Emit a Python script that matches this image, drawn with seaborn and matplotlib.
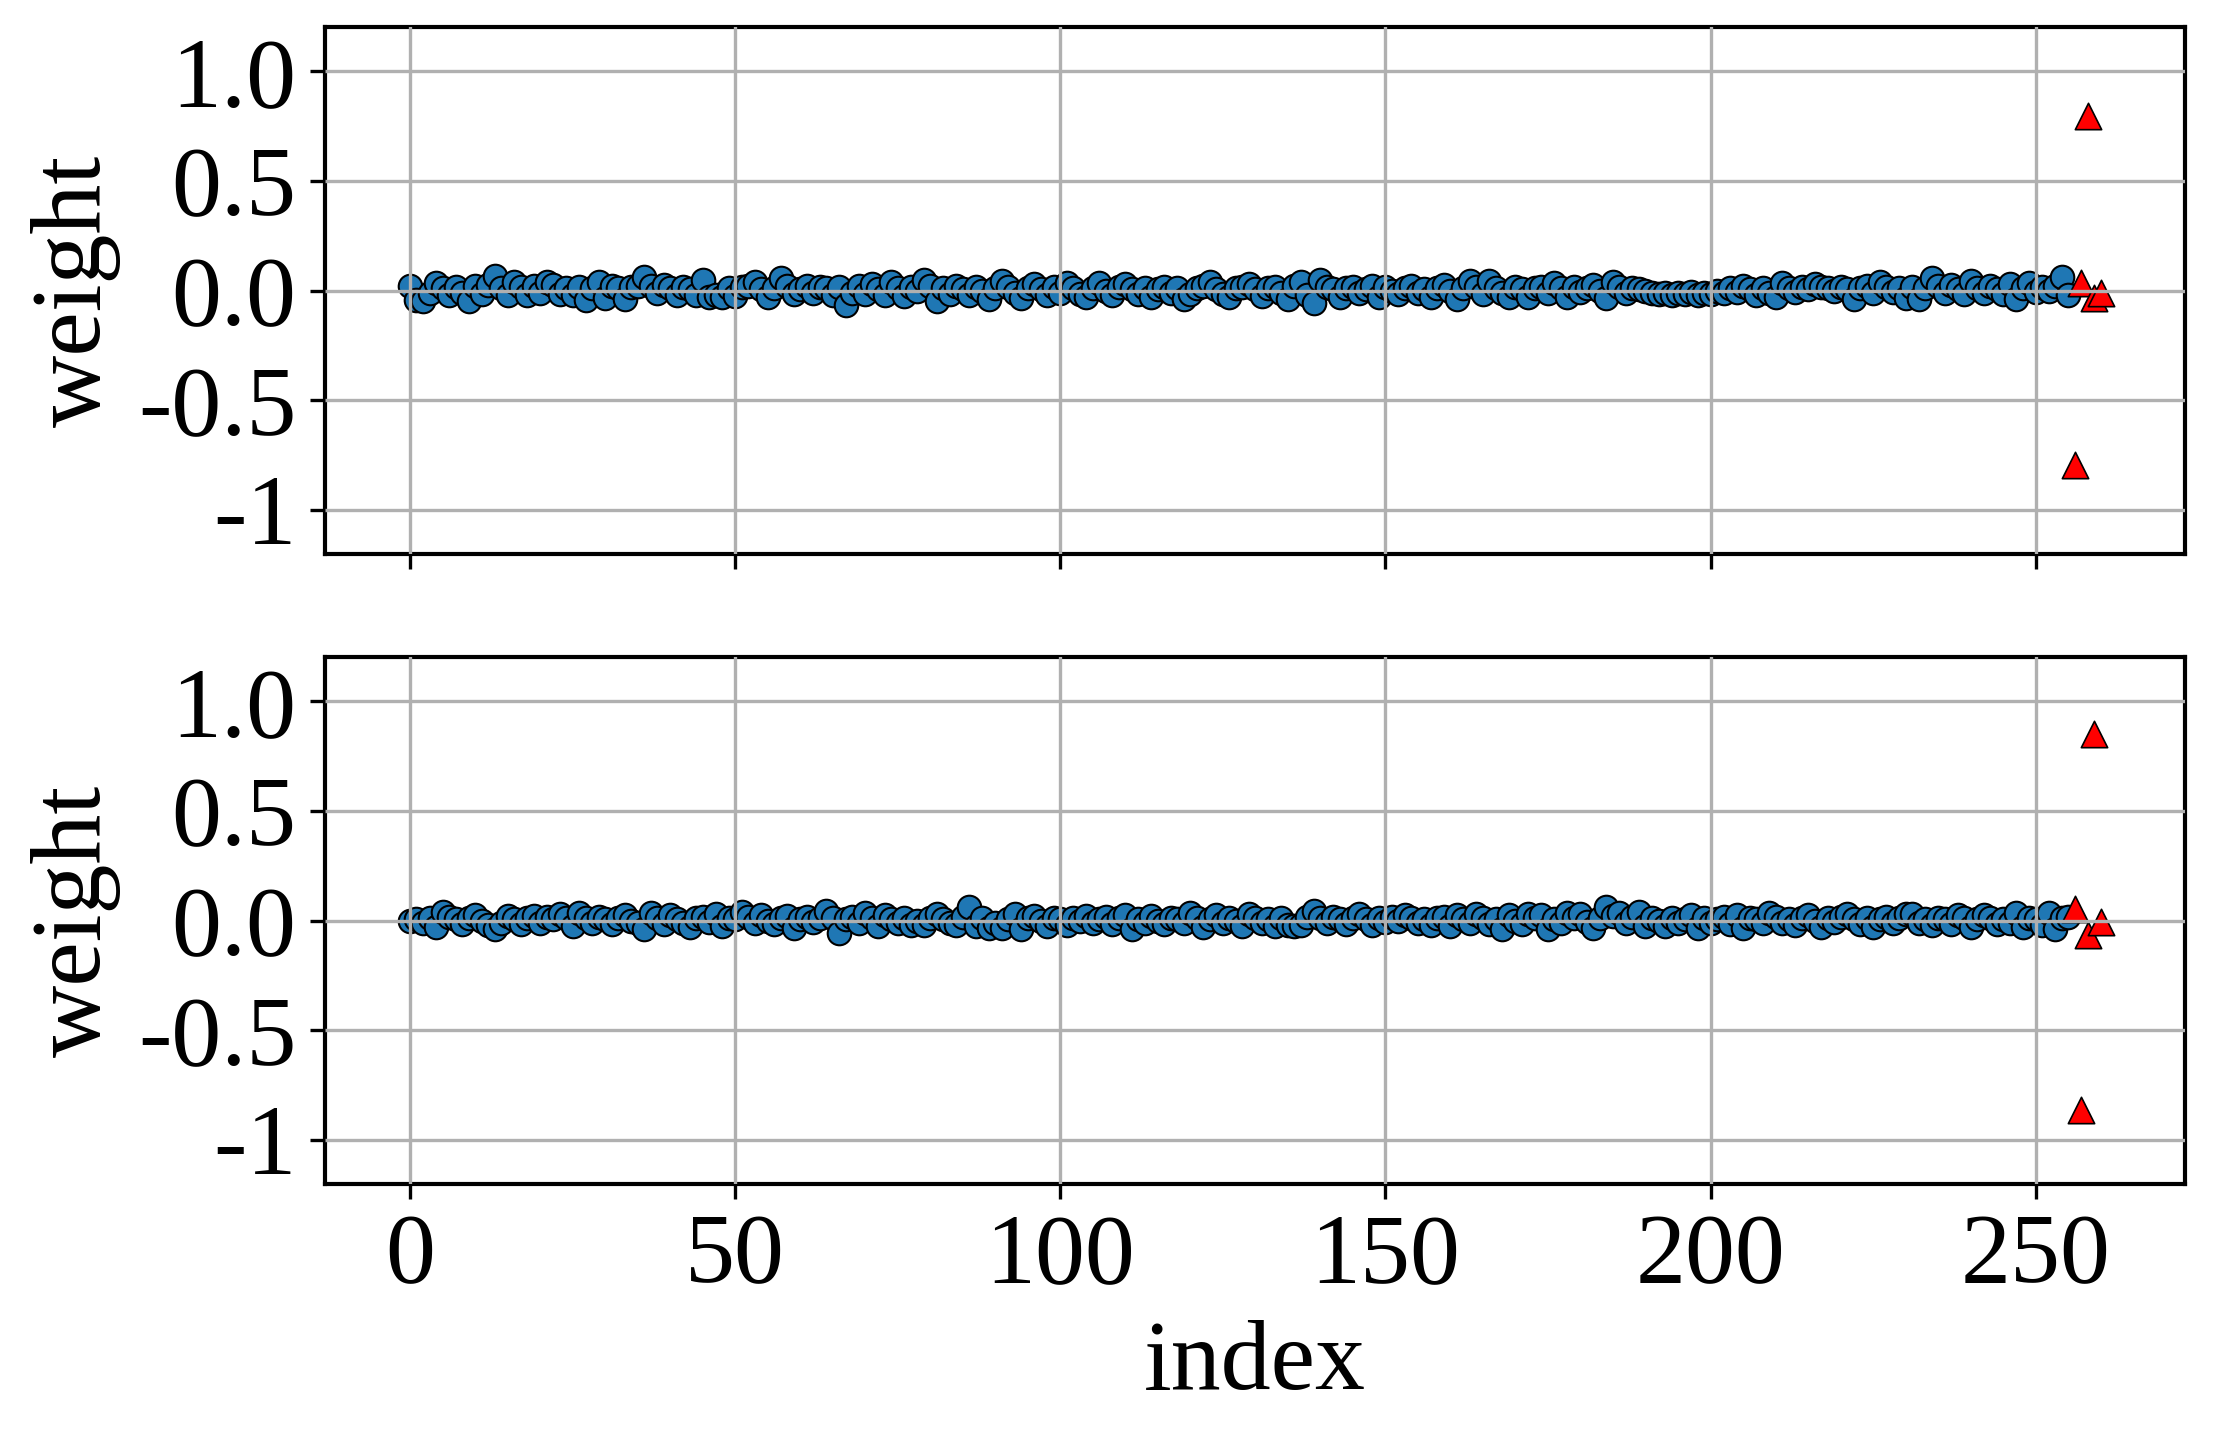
import numpy as np
import pandas as pd
import matplotlib
matplotlib.use('Agg')
import matplotlib.pyplot as plt
import seaborn as sns

sns.set_theme(style='ticks')
plt.rcParams['font.family'] = ['Liberation Serif', 'DejaVu Serif']
plt.rcParams['axes.edgecolor'] = 'black'
plt.rcParams['axes.linewidth'] = 1.0
plt.rcParams['text.color'] = 'black'
plt.rcParams['axes.labelcolor'] = 'black'
plt.rcParams['xtick.color'] = 'black'
plt.rcParams['ytick.color'] = 'black'

# weights of the first layer (256 regular entries) and the last few (outliers)
top_weights = [
    0.02, -0.045, -0.05, -0.01, 0.034, 0.01, -0.02, 0.015, -0.01, -0.05, 0.02, -0.015, 0.025, 0.064, 0.01, -0.02,
    0.04, 0.015, -0.02, 0.02, -0.01, 0.04, 0.025, -0.015, 0.01, -0.02, 0.015, -0.043, 0.01, 0.04, -0.035, 0.02,
    0.01, -0.04, 0.015, 0.02, 0.06, 0.02, -0.01, 0.025, 0.01, -0.02, 0.015, 0.005, -0.02, 0.05, -0.03, -0.02,
    -0.03, 0.01, -0.025, 0.015, 0.02, 0.04, 0.005, -0.03, 0.01, 0.055, 0.02, -0.015, 0.005, 0.02, -0.01, 0.015,
    0.01, -0.02, 0.015, -0.065, -0.01, 0.02, -0.015, 0.03, 0.005, -0.02, 0.04, 0.01, -0.025, 0.015, 0.0, 0.05,
    0.02, -0.05, 0.01, -0.015, 0.02, 0.005, -0.02, 0.015, 0.0, -0.04, 0.01, 0.045, 0.015, -0.01, -0.035, 0.01,
    0.03, 0.005, -0.02, 0.015, -0.01, 0.035, 0.01, -0.015, -0.03, 0.01, 0.035, 0.0, -0.02, 0.015, 0.03, 0.005,
    -0.015, 0.01, -0.03, 0.005, 0.015, -0.01, 0.01, -0.04, -0.015, 0.01, 0.02, 0.04, 0.005, -0.015, -0.03, 0.01,
    0.015, 0.03, 0.005, -0.025, 0.01, 0.015, -0.01, -0.04, 0.02, 0.04, -0.02, -0.055, 0.05, 0.015, 0.005, -0.03,
    0.01, 0.015, -0.01, 0.005, 0.02, -0.03, 0.015, 0.0, -0.015, 0.01, 0.02, -0.01, 0.005, -0.03, 0.01, 0.025,
    0.0, -0.04, 0.01, 0.045, 0.015, -0.015, 0.045, 0.01, -0.01, -0.03, 0.015, 0.005, -0.03, 0.01, 0.015, -0.01,
    0.035, 0.01, -0.03, 0.015, -0.005, 0.01, 0.025, 0.0, -0.035, 0.04, 0.015, -0.01, 0.01, 0.005, 0.0, -0.01,
    -0.015, -0.01, -0.02, -0.01, -0.015, -0.005, -0.02, -0.01, -0.015, 0.0, -0.01, 0.01, -0.005, 0.02, 0.005, -0.02,
    0.01, -0.01, -0.03, 0.035, 0.01, -0.005, 0.015, 0.005, 0.03, 0.015, 0.01, 0.0, 0.015, 0.005, -0.04, 0.01,
    0.02, -0.01, 0.04, 0.015, -0.005, 0.01, -0.035, 0.015, -0.04, 0.01, 0.055, 0.02, -0.01, 0.025, 0.005, -0.015,
    0.045, 0.01, -0.01, 0.02, 0.005, -0.015, 0.03, -0.04, 0.01, 0.035, -0.005, 0.015, 0.0, 0.02, 0.06, -0.02,
]
top_outliers = [-0.795, 0.035, 0.794, -0.035, -0.012]

bottom_weights = [
    0.0, 0.005, -0.01, 0.01, -0.03, 0.04, 0.015, 0.005, -0.015, 0.01, 0.025, 0.0, -0.02, -0.04, -0.01, 0.02,
    0.005, -0.015, 0.01, 0.02, -0.01, 0.015, 0.005, 0.03, 0.01, -0.025, 0.035, 0.01, -0.01, 0.015, 0.005, -0.015,
    0.01, 0.025, 0.0, -0.01, -0.04, 0.035, 0.01, -0.015, 0.025, 0.005, -0.01, -0.03, 0.01, 0.015, -0.005, 0.03,
    -0.025, 0.01, 0.005, 0.04, 0.015, -0.01, 0.025, 0.0, -0.015, 0.01, 0.02, -0.035, 0.005, 0.015, -0.005, 0.01,
    0.045, 0.01, -0.055, 0.005, 0.015, -0.01, 0.035, 0.01, -0.025, 0.025, 0.005, -0.01, 0.01, -0.02, 0.0, -0.02,
    0.01, 0.03, 0.005, -0.01, -0.02, 0.015, 0.06, -0.025, 0.01, -0.035, -0.01, -0.035, 0.005, 0.03, -0.04, 0.01,
    0.02, 0.0, -0.025, 0.01, 0.005, -0.02, 0.01, 0.0, 0.02, -0.01, 0.005, 0.015, -0.015, 0.01, 0.025, -0.04,
    0.005, -0.01, 0.02, 0.0, -0.015, 0.01, 0.005, -0.01, 0.035, 0.01, -0.03, 0.005, 0.025, -0.01, 0.01, 0.0,
    -0.025, 0.03, 0.01, -0.01, 0.005, -0.025, 0.01, -0.02, -0.025, -0.02, 0.015, 0.045, 0.01, -0.01, 0.015, 0.005,
    -0.015, 0.01, 0.03, 0.005, -0.02, 0.01, -0.005, 0.015, 0.0, 0.025, 0.01, -0.01, 0.005, -0.02, 0.01, 0.015,
    -0.025, 0.025, 0.005, -0.01, 0.03, 0.01, -0.015, 0.005, -0.04, 0.025, 0.0, -0.015, 0.03, 0.01, 0.025, -0.04,
    0.005, -0.01, 0.035, 0.01, 0.03, -0.005, -0.035, 0.01, 0.06, 0.02, 0.035, -0.01, 0.015, 0.04, -0.025, 0.01,
    0.0, -0.025, 0.01, -0.01, 0.005, 0.025, -0.035, 0.01, -0.01, 0.005, 0.015, -0.015, 0.025, -0.035, 0.01, 0.005,
    -0.01, 0.035, 0.015, -0.01, 0.005, -0.02, 0.01, 0.025, 0.0, -0.03, 0.01, -0.005, 0.015, 0.03, 0.005, -0.015,
    0.01, -0.03, 0.005, 0.015, -0.01, 0.01, 0.03, 0.03, -0.01, 0.005, -0.02, 0.01, 0.005, -0.015, 0.025, 0.01,
    -0.03, 0.005, 0.025, 0.01, -0.015, 0.005, -0.01, 0.035, -0.03, 0.01, 0.005, -0.02, 0.035, -0.04, 0.01, 0.015,
]
bottom_outliers = [0.053, -0.864, -0.066, 0.849, -0.009]

ytick_vals = [-1, -0.5, 0, 0.5, 1.0]
ytick_labels = ['-1', '-0.5', '0.0', '0.5', '1.0']
xtick_vals = [0, 50, 100, 150, 200, 250]

fig, axes = plt.subplots(2, 1, figsize=(7.38, 4.8), sharex=True)
fig.subplots_adjust(left=0.147, right=0.987, top=0.981, bottom=0.178, hspace=0.197)

for ax, w, out in zip(axes, [top_weights, bottom_weights], [top_outliers, bottom_outliers]):
    n = len(w)
    df = pd.DataFrame({'index': np.arange(n), 'weight': w})
    df_out = pd.DataFrame({'index': np.arange(n, n + len(out)), 'weight': out})
    sns.scatterplot(data=df, x='index', y='weight', ax=ax, color='#1f77b4',
                    edgecolor='black', linewidth=0.5, s=32, marker='o')
    sns.scatterplot(data=df_out, x='index', y='weight', ax=ax, color='red',
                    edgecolor='black', linewidth=0.4, s=40, marker='^')
    ax.set_ylim(-1.2, 1.2)
    ax.set_yticks(ytick_vals)
    ax.set_yticklabels(ytick_labels)
    ax.set_xticks(xtick_vals)
    ax.grid(True, color='#b0b0b0', linewidth=0.8)
    ax.set_axisbelow(False)
    ax.tick_params(labelsize=24, direction='out', length=3.5, width=0.8, color='black')
    ax.set_ylabel('weight', fontsize=24)
    ax.set_xlabel('')
    for sp in ax.spines.values():
        sp.set_visible(True)
        sp.set_color('black')

axes[1].set_xlabel('index', fontsize=24)
axes[0].tick_params(labelbottom=False)

fig.savefig('out.png', dpi=300)
